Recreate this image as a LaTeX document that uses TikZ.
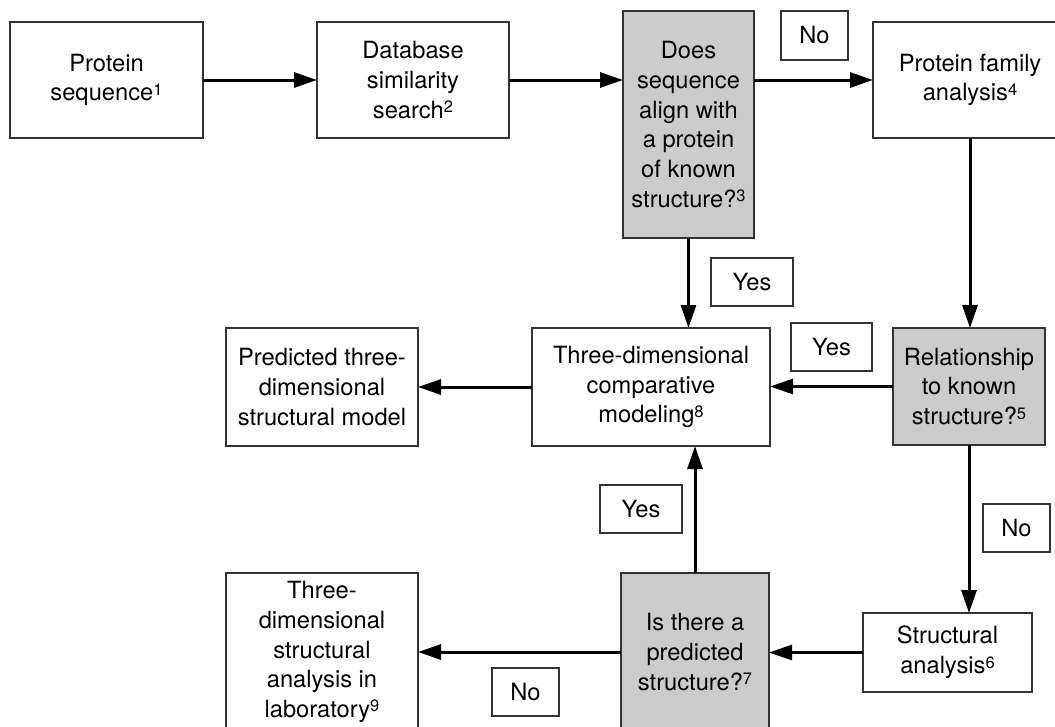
\documentclass[tikz,border=0pt]{standalone}
\usepackage{fontspec}
\setmainfont{TeX Gyre Heros}
\usetikzlibrary{arrows.meta}
\definecolor{qgray}{HTML}{CCCCCC}
\definecolor{edge}{HTML}{333333}
\newcommand\sps[1]{\raisebox{5.5pt}{\fontsize{16.5}{16.5}\selectfont #1}}
\tikzset{
  box/.style={draw=edge, line width=1.4pt, inner sep=0pt, outer sep=0pt, align=center,
    font={\fontsize{23.7}{29.7}\selectfont}},
  gbox/.style={box, fill=qgray},
  lbl/.style={box, minimum height=48pt},
  arr/.style={-{Triangle[length=23pt,width=15pt]}, line width=3pt, black}
}
\begin{document}
\begin{tikzpicture}[x=1pt,y=-1pt]
\useasboundingbox (0,0) rectangle (1055,726);
% main boxes
\node[box, minimum width=193pt, minimum height=116pt] (ps) at (106.5,80) {Protein\\sequence\sps{1}};
\node[box, minimum width=192pt, minimum height=116pt] (db) at (413,80) {Database\\similarity\\search\sps{2}};
\node[gbox, minimum width=131pt, minimum height=227pt] (g1) at (688.5,124.5) {Does\\sequence\\align with\\a protein\\of known\\structure?\sps{3}};
\node[box, minimum width=194pt, minimum height=116pt] (pf) at (970,80) {Protein family\\analysis\sps{4}};
\node[box, minimum width=192pt, minimum height=118pt] (pred) at (322,387) {Predicted three-\\dimensional\\structural model};
\node[box, minimum width=238pt, minimum height=118pt] (td) at (651,387) {Three-dimensional\\comparative\\modeling\sps{8}};
\node[gbox, minimum width=152pt, minimum height=117pt] (rel) at (969,386.5) {Relationship\\to known\\structure?\sps{5}};
\node[box, minimum width=192pt, minimum height=158pt] (lab) at (322,652) {Three-\\dimensional\\structural\\analysis in\\laboratory\sps{9}};
\node[gbox, minimum width=148pt, minimum height=158pt] (g2) at (695,652) {Is there a\\predicted\\structure?\sps{7}};
\node[box, minimum width=169pt, minimum height=79pt] (sa) at (947.5,652.5) {Structural\\analysis\sps{6}};
% label boxes
\node[lbl, minimum width=67pt, minimum height=49pt] (no1) at (814.5,35.5) {No};
\node[lbl, minimum width=82pt] (yes1) at (752,282) {Yes};
\node[lbl, minimum width=81pt] (yes2) at (831.5,347) {Yes};
\node[lbl, minimum width=82pt] (yes3) at (641,509) {Yes};
\node[lbl, minimum width=67pt] (no2) at (1016.5,528) {No};
\node[lbl, minimum width=67pt] (no3) at (525.5,692) {No};
% connectors
\draw[arr] (ps.east) -- (db.west);
\draw[arr] (db.east) -- (db.east -| g1.west);
\draw[arr] (g1.east |- pf.west) -- (pf.west);
\draw[arr] (pf.south) -- (pf.south |- rel.north);
\draw[arr] (g1.south) -- (g1.south |- td.north);
\draw[arr] (rel.west) -- (rel.west -| td.east);
\draw[arr] (td.west) -- (td.west -| pred.east);
\draw[arr] (rel.south) -- (rel.south |- sa.north);
\draw[arr] (sa.west) -- (sa.west -| g2.east);
\draw[arr] (g2.west) -- (g2.west -| lab.east);
\draw[arr] (g2.north) -- (g2.north |- td.south);
\end{tikzpicture}
\end{document}
